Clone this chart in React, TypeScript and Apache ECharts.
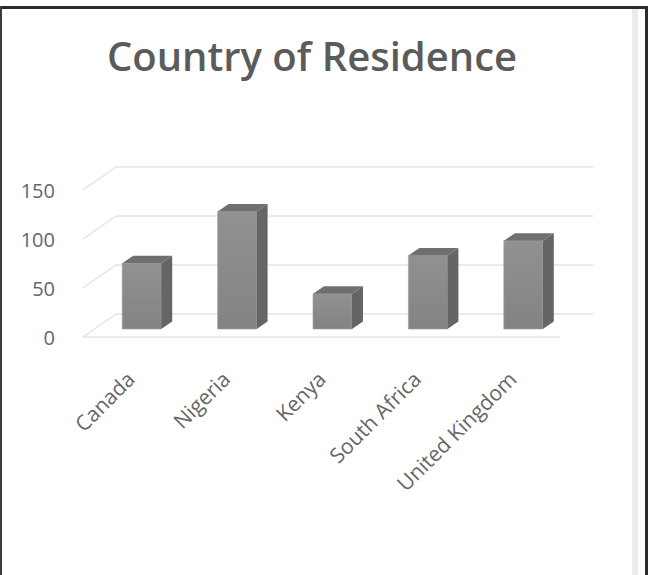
import React, { useEffect, useRef } from "react";
import * as echarts from "echarts";

const categories = ["Canada", "Nigeria", "Kenya", "South Africa", "United Kingdom"];
const values = [67, 120, 36, 75, 90];
const yTicks = [0, 50, 100, 150];

// 3D projection offsets (pixels)
const DX = 33; // depth of floor, x
const DY = -23; // depth of floor, y
const FX = 11; // bar front face offset from front plane
const FY = -8;
const BX = 11; // bar depth
const BY = -7.5;
const BAR_W = 39;

export default function App() {
  const ref = useRef<HTMLDivElement>(null);
  useEffect(() => {
    document.body.style.margin = "0";
    const chart = echarts.init(ref.current!, null, { renderer: "svg" });
    const gridColor = "#e3e3e3";
    const option: any = {
      animation: false,
      backgroundColor: "#ffffff",
      title: {
        text: "Country of Residence",
        left: 307,
        textAlign: "center",
        top: 30,
        textStyle: {
          fontFamily: "Open Sans",
          fontSize: 40,
          fontWeight: 600,
          color: "#5b5b5b",
        },
      },
      grid: { left: 83, right: 88, top: 190, bottom: 238 },
      xAxis: {
        type: "category",
        data: categories,
        axisLine: { show: false },
        axisTick: { show: false },
        splitLine: { show: false },
        axisLabel: {
          rotate: 45,
          interval: 0,
          margin: 38,
          fontFamily: "Open Sans",
          fontSize: 21,
          color: "#666666",
        },
      },
      yAxis: {
        type: "value",
        min: 0,
        max: 150,
        interval: 50,
        axisLine: { show: false },
        axisTick: { show: false },
        splitLine: { show: false },
        axisLabel: {
          margin: 28,
          fontFamily: "Open Sans",
          fontSize: 20,
          color: "#666666",
        },
      },
      graphic: [
        { type: "rect", shape: { x: 632, y: 8, width: 6, height: 567 }, style: { fill: "#ececec" }, silent: true },
        { type: "rect", shape: { x: 0, y: 6, width: 648, height: 3 }, style: { fill: "#2b2b2b" }, silent: true },
        { type: "rect", shape: { x: 0, y: 6, width: 2, height: 569 }, style: { fill: "#3a3a3a" }, silent: true },
        { type: "rect", shape: { x: 645, y: 6, width: 3, height: 569 }, style: { fill: "#2b2b2b" }, silent: true },
      ],
      series: [
        {
          type: "custom",
          data: yTicks.map((v) => [0, v]),
          z: 1,
          silent: true,
          renderItem: (params: any, api: any) => {
            const cs = params.coordSys;
            const v = api.value(1);
            const y = api.coord([0, v])[1];
            const x0 = cs.x;
            const x1 = cs.x + cs.width;
            const children: any[] = [
              {
                type: "line",
                shape: { x1: x0, y1: y, x2: x0 + DX, y2: y + DY },
                style: { stroke: gridColor, lineWidth: 1.5 },
              },
              {
                type: "line",
                shape: { x1: x0 + DX, y1: y + DY, x2: x1 + DX, y2: y + DY },
                style: { stroke: gridColor, lineWidth: 1.5 },
              },
            ];
            if (v === 0) {
              children.push({
                type: "line",
                shape: { x1: x0, y1: y, x2: x1, y2: y },
                style: { stroke: gridColor, lineWidth: 1.5 },
              });
            }
            return { type: "group", children };
          },
        },
        {
          type: "custom",
          data: values.map((v, i) => [i, v]),
          z: 2,
          renderItem: (params: any, api: any) => {
            const i = api.value(0);
            const v = api.value(1);
            const base = api.coord([i, 0]);
            const top = api.coord([i, v]);
            const cx = base[0] + FX;
            const xl = cx - BAR_W / 2;
            const xr = cx + BAR_W / 2;
            const yb = base[1] + FY;
            const yt = top[1] + FY;
            return {
              type: "group",
              children: [
                {
                  type: "rect",
                  shape: { x: xl, y: yt, width: BAR_W, height: yb - yt },
                  style: {
                    fill: new echarts.graphic.LinearGradient(0, 0, 0, 1, [
                      { offset: 0, color: "#919191" },
                      { offset: 1, color: "#838383" },
                    ]),
                    stroke: "#a0a0a0",
                    lineWidth: 0.6,
                  },
                },
                {
                  type: "polygon",
                  shape: {
                    points: [
                      [xr, yb],
                      [xr + BX, yb + BY],
                      [xr + BX, yt + BY],
                      [xr, yt],
                    ],
                  },
                  style: { fill: "#656565" },
                },
                {
                  type: "polygon",
                  shape: {
                    points: [
                      [xl, yt],
                      [xl + BX, yt + BY],
                      [xr + BX, yt + BY],
                      [xr, yt],
                    ],
                  },
                  style: { fill: "#6f6f6f" },
                },
              ],
            };
          },
        },
      ],
    };
    chart.setOption(option);
    return () => chart.dispose();
  }, []);
  return <div ref={ref} style={{ width: 648, height: 575 }} />;
}
